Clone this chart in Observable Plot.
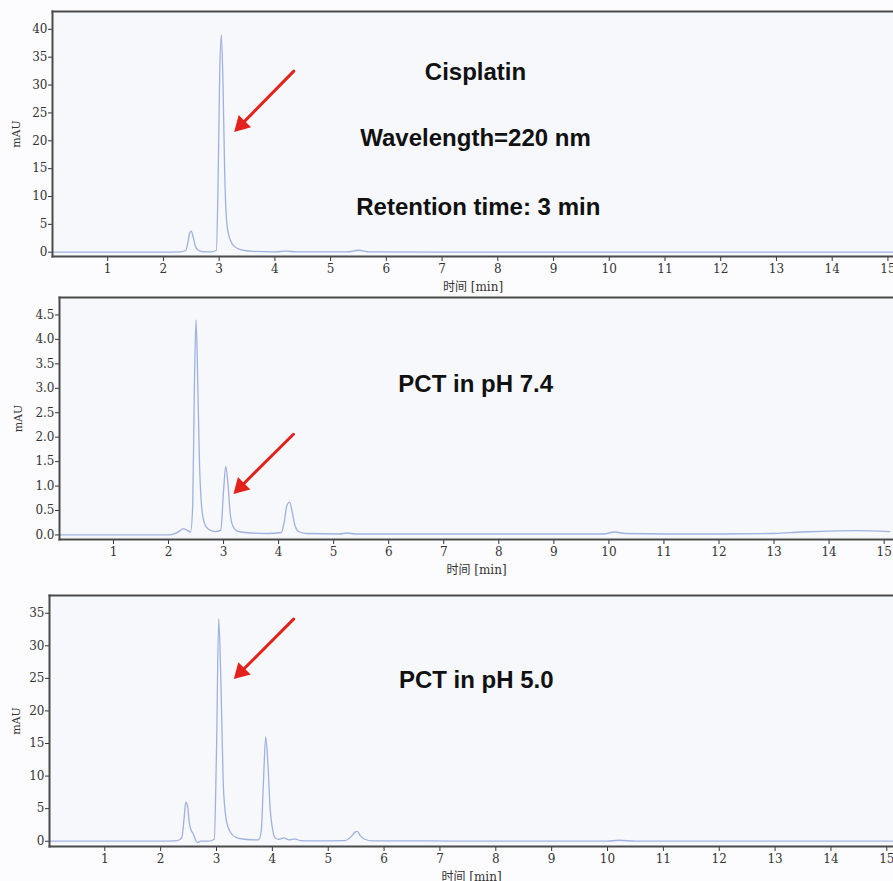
<!DOCTYPE html>
<html><head><meta charset="utf-8">
<script src="https://cdn.jsdelivr.net/npm/d3@7"></script>
<script src="https://cdn.jsdelivr.net/npm/@observablehq/plot@0.6"></script>
<style>
body{margin:0;background:#fcfcfe;}
#c svg{display:block;}
</style></head><body><div id="c"></div>
<script>
// ---- Data (retention time in min, absorbance in mAU) ----
const xTicks = [1,2,3,4,5,6,7,8,9,10,11,12,13,14,15];
const xLabel = "时间 [min]";
const yLabel = "mAU";

// Panel 1: Cisplatin
const t1 = [0.02, 1.0, 2.0, 2.3, 2.4, 2.44, 2.47, 2.5, 2.53, 2.57, 2.62, 2.7, 2.85, 2.95, 2.98, 3.01, 3.04, 3.07, 3.1, 3.14, 3.2, 3.28, 3.4, 3.6, 4.0, 4.2, 4.4, 5.3, 5.5, 5.7, 7, 10, 13, 15.1];
const v1 = [0, 0, 0, 0.05, 0.3, 1.8, 3.4, 3.8, 2.9, 1.2, 0.4, 0.1, 0.05, 0.3, 12, 32, 39, 30, 14, 5, 2.2, 1.0, 0.4, 0.15, 0.05, 0.2, 0.05, 0.05, 0.35, 0.05, 0, 0, 0, 0];
const y1Ticks = [0,5,10,15,20,25,30,35,40];
const note1Text = ["Cisplatin", "Wavelength=220 nm", "Retention time: 3 min"];
const note1X = [7.6, 7.6, 7.65];
const note1Y = [32.3, 20.4, 8.1];
const arrow1 = {x1: 4.34, y1: 32.5, x2: 3.27, y2: 21.6};

// Panel 2: PCT in pH 7.4
const t2 = [0.02, 1.0, 2.0, 2.1, 2.2, 2.27, 2.33, 2.4, 2.44, 2.47, 2.5, 2.53, 2.56, 2.6, 2.65, 2.72, 2.85, 2.95, 3.0, 3.04, 3.08, 3.12, 3.17, 3.25, 3.4, 3.8, 4.05, 4.1, 4.15, 4.2, 4.25, 4.3, 4.38, 4.5, 5.1, 5.25, 5.4, 6, 8, 9.9, 10.1, 10.3, 11, 12, 13, 13.5, 14, 14.5, 15.1];
const v2 = [0.0, 0.0, 0.0, 0.02, 0.08, 0.13, 0.1, 0.06, 0.6, 3.0, 4.4, 3.2, 1.6, 0.6, 0.25, 0.12, 0.07, 0.1, 0.9, 1.4, 1.05, 0.45, 0.18, 0.08, 0.05, 0.03, 0.05, 0.25, 0.6, 0.67, 0.45, 0.18, 0.06, 0.03, 0.02, 0.04, 0.02, 0.02, 0.02, 0.02, 0.06, 0.03, 0.02, 0.02, 0.03, 0.06, 0.08, 0.09, 0.07];
const y2Ticks = [0,0.5,1,1.5,2,2.5,3,3.5,4,4.5];
const note2Text = ["PCT in pH 7.4"];
const note2X = [7.58];
const note2Y = [3.08];
const arrow2 = {x1: 4.27, y1: 2.06, x2: 3.18, y2: 0.84};

// Panel 3: PCT in pH 5.0
const t3 = [0.02, 1.0, 2.0, 2.3, 2.38, 2.42, 2.45, 2.48, 2.51, 2.54, 2.58, 2.62, 2.66, 2.72, 2.85, 2.96, 3.0, 3.04, 3.08, 3.12, 3.17, 3.24, 3.35, 3.5, 3.75, 3.8, 3.84, 3.88, 3.92, 3.96, 4.0, 4.05, 4.12, 4.2, 4.3, 4.4, 4.5, 4.7, 5.3, 5.42, 5.48, 5.52, 5.57, 5.65, 5.8, 6.5, 8, 10, 10.2, 10.5, 12, 15.1];
const v3 = [0, 0, 0, 0.1, 0.6, 3.5, 6.0, 5.5, 3.0, 1.8, 1.2, 0.3, -0.2, 0, 0, 0.3, 14, 34.2, 24, 9, 3.5, 1.5, 0.6, 0.3, 0.2, 1.5, 9, 16, 12, 5, 2, 0.5, 0.3, 0.5, 0.2, 0.35, 0.1, 0.05, 0.1, 0.8, 1.4, 1.5, 0.9, 0.3, 0.05, 0.05, 0, 0, 0.15, 0, 0, 0];
const y3Ticks = [0,5,10,15,20,25,30,35];
const note3Text = ["PCT in pH 5.0"];
const note3X = [7.65];
const note3Y = [24.7];
const arrow3 = {x1: 4.38, y1: 34.1, x2: 3.31, y2: 24.9};

const red = "#e3221c";
const traceColor = "#9fb1e0";
const frameColor = "#4a4a4a";

function panel(cfg) {
  const rows = cfg.t.map((t, i) => ({t, v: cfg.v[i]}));
  const notes = cfg.noteText.map((text, i) => ({text, x: cfg.noteX[i], y: cfg.noteY[i]}));
  const arr = [cfg.arrow];
  const svg = Plot.plot({
    width: 893, height: cfg.height,
    marginLeft: cfg.ml, marginRight: 0, marginTop: cfg.mt, marginBottom: cfg.mb,
    style: {background: "transparent", fontFamily: "'DejaVu Serif', 'Noto Sans CJK SC', serif", fontSize: "12px", color: "#333"},
    x: {domain: cfg.xd},
    y: {domain: cfg.yd},
    marks: [
      Plot.frame({fill: "#f6f8fc", stroke: null}),
      Plot.axisX({ticks: xTicks, tickSize: 5, tickPadding: 3, tickFormat: d => String(d), label: xLabel, labelAnchor: "center", labelOffset: 34, labelArrow: "none", stroke: "#333"}),
      Plot.axisY({ticks: cfg.yTicks, tickSize: 4, tickPadding: 1, tickFormat: cfg.fmt, label: yLabel, labelAnchor: "center", labelOffset: cfg.lo, labelArrow: "none", stroke: "#333"}),
      Plot.line(rows, {x: "t", y: "v", stroke: traceColor, strokeWidth: 1.3, curve: "monotone-x"}),
      Plot.text(notes, {x: "x", y: "y", text: "text", fontFamily: "'Liberation Sans', Arial, sans-serif", fontWeight: "bold", fontSize: 24, fill: "#111", textAnchor: "middle", lineAnchor: "middle"}),
      Plot.arrow(arr, {x1: "x1", y1: "y1", x2: "x2", y2: "y2", stroke: red, strokeWidth: 3, headLength: 0, insetEnd: 7}),
      Plot.dot(arr, {x: "x2", y: "y2", symbol: "triangle", r: 6.5, rotate: 225, fill: red, stroke: null, dx: 7.1, dy: -7.1}),
      Plot.frame({anchor: "top", stroke: frameColor, strokeWidth: 2}),
      Plot.frame({anchor: "left", stroke: frameColor, strokeWidth: 2}),
      Plot.frame({anchor: "bottom", stroke: frameColor, strokeWidth: 2})
    ]
  });
  d3.select(svg).selectAll('g[aria-label="y-axis label"] text').style("font-size", "11px");
  return svg;
}

const c = document.getElementById("c");
c.appendChild(panel({t: t1, v: v1, height: 293, ml: 52, mt: 11, mb: 37, xd: [0.01, 15.1], yd: [-0.77, 43.2], yTicks: y1Ticks, fmt: d => String(d), lo: 40, noteText: note1Text, noteX: note1X, noteY: note1Y, arrow: arrow1}));
c.appendChild(panel({t: t2, v: v2, height: 297, ml: 59, mt: 4, mb: 51, xd: [0.02, 15.17], yd: [-0.093, 4.857], yTicks: y2Ticks, fmt: d3.format(".1f"), lo: 45, noteText: note2Text, noteX: note2X, noteY: note2Y, arrow: arrow2}));
c.appendChild(panel({t: t3, v: v3, height: 291, ml: 49, mt: 5, mb: 35, xd: [0.01, 15.12], yd: [-0.81, 37.72], yTicks: y3Ticks, fmt: d => String(d), lo: 37, noteText: note3Text, noteX: note3X, noteY: note3Y, arrow: arrow3}));
</script></body></html>
